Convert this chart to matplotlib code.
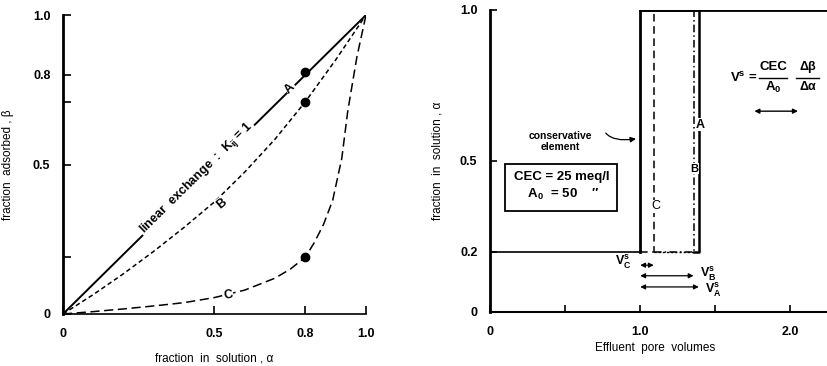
import matplotlib
matplotlib.use("Agg")
import matplotlib.pyplot as plt

plt.rcParams['font.family'] = ['Liberation Sans', 'DejaVu Sans']
plt.rcParams['mathtext.fontset'] = 'custom'
plt.rcParams['mathtext.rm'] = 'Liberation Sans'
plt.rcParams['mathtext.it'] = 'Liberation Sans:italic'
plt.rcParams['mathtext.bf'] = 'Liberation Sans:bold'

# ---- left panel data ----
alpha_A = [0.0, 1.0]
beta_A = [0.0, 1.0]
alpha_B = [0.0, 0.1, 0.2, 0.3, 0.4, 0.5, 0.6, 0.7, 0.8, 0.9, 1.0]
beta_B = [0.0, 0.065, 0.135, 0.21, 0.29, 0.375, 0.475, 0.585, 0.71, 0.85, 1.0]
alpha_C = [0.0, 0.1, 0.2, 0.3, 0.4, 0.5, 0.6, 0.7, 0.75, 0.8, 0.83, 0.86, 0.89, 0.92, 0.94, 0.97, 1.0]
beta_C = [0.0, 0.008, 0.017, 0.027, 0.038, 0.055, 0.08, 0.12, 0.15, 0.19, 0.24, 0.30, 0.38, 0.52, 0.68, 0.86, 1.0]
pts_alpha = [0.8, 0.8, 0.8]
pts_beta = [0.81, 0.71, 0.19]
left_xticks = [0, 0.5, 0.8, 1.0]
left_xticklabels = ['0', '0.5', '0.8', '1.0']
left_yticks = [0, 0.19, 0.5, 0.71, 0.8, 1.0]
left_yticklabels = ['0', '', '0.5', '', '0.8', '1.0']

# ---- right panel data ----
base_x = [0.0, 1.0]
base_y = [0.2, 0.2]
breakthrough = {'cons': 1.0, 'C': 1.09, 'B': 1.355, 'A': 1.39}
x_end = 2.25
arrow_y = {'C': 0.155, 'B': 0.12, 'A': 0.083}
right_xticks = [0, 0.5, 1.0, 1.5, 2.0]
right_xticklabels = ['0', '', '1.0', '', '2.0']
right_yticks = [0, 0.2, 0.5, 1.0]
right_yticklabels = ['0', '0.2', '0.5', '1.0']

fig = plt.figure(figsize=(8.28, 3.66), dpi=100)

# ================= LEFT =================
ax = fig.add_axes([63/828, 1-314/366, 303/828, 299/366])
ax.set_xlim(0, 1.0)
ax.set_ylim(0, 1.0)
for s in ['top', 'right']:
    ax.spines[s].set_visible(False)
ax.spines['left'].set_linewidth(2.0)
ax.spines['bottom'].set_linewidth(1.2)

ax.plot(alpha_A, beta_A, color='black', lw=1.4, solid_capstyle='butt')
ax.plot(alpha_B, beta_B, color='black', lw=1.1, dashes=(3, 2))
ax.plot(alpha_C, beta_C, color='black', lw=1.1, dashes=(6, 3))
ax.plot(pts_alpha, pts_beta, 'o', color='black', ms=6)

ax.text(0.44, 0.455, 'linear  exchange  :  K$_{\\mathbf{ij}}$ = 1', rotation=44.5,
        ha='center', va='center', fontsize=9, fontweight='bold',
        bbox=dict(facecolor='white', edgecolor='none', pad=1))
ax.text(0.75, 0.755, 'A', rotation=44.5, ha='center', va='center', fontsize=9,
        fontweight='bold', bbox=dict(facecolor='white', edgecolor='none', pad=0.5))
ax.text(0.525, 0.37, 'B', rotation=40, ha='center', va='center', fontsize=9,
        fontweight='bold', bbox=dict(facecolor='white', edgecolor='none', pad=0.5))
ax.text(0.545, 0.062, 'C', rotation=10, ha='center', va='center', fontsize=9,
        fontweight='bold', bbox=dict(facecolor='white', edgecolor='none', pad=0.5))

ax.set_xticks(left_xticks)
ax.set_xticklabels(left_xticklabels, fontweight='bold')
ax.set_yticks(left_yticks)
ax.set_yticklabels(left_yticklabels, fontweight='bold')
ax.tick_params(direction='in', length=6, width=1.2, labelsize=9, pad=9)
ax.tick_params(axis='x', pad=10)
ax.set_xlabel('fraction  in  solution , α', fontsize=8.5, labelpad=9)
ax.set_ylabel('fraction  adsorbed , β', fontsize=8.5, labelpad=14)

# ================= RIGHT =================
ax2 = fig.add_axes([490/828, 1-312/366, 338/828, 302/366])
ax2.set_xlim(0, x_end)
ax2.set_ylim(0, 1.0)
for s in ['top', 'right']:
    ax2.spines[s].set_visible(False)
ax2.spines['left'].set_linewidth(2.0)
ax2.spines['bottom'].set_linewidth(1.5)

ax2.plot(base_x, base_y, color='black', lw=1.2)
bc = breakthrough['cons']
ax2.plot([bc, bc, x_end], [0.2, 1.0, 1.0], color='black', lw=2.0)
xc = breakthrough['C']
ax2.plot([bc, xc, xc, bc], [0.2, 0.2, 1.0, 1.0], color='black', lw=1.1, dashes=(5, 3))
xb = breakthrough['B']
ax2.plot([xc, xb, xb], [0.2, 0.2, 1.0], color='black', lw=1.1, dashes=(5, 2, 1, 2))
ax2.plot([xc, xb], [0.2, 0.2], color='black', lw=1.0, dashes=(1.5, 1.5))
xa = breakthrough['A']
ax2.plot([xb, xa, xa, bc], [0.2, 0.2, 1.0, 1.0], color='black', lw=1.8)

ax2.text(xa + 0.01, 0.62, 'A', ha='center', va='center', fontsize=9, fontweight='bold',
         bbox=dict(facecolor='white', edgecolor='none', pad=0.3))
ax2.text(xb + 0.005, 0.475, 'B', ha='center', va='center', fontsize=8, fontweight='bold',
         bbox=dict(facecolor='white', edgecolor='none', pad=0.3))
ax2.text(xc + 0.015, 0.35, 'C', ha='center', va='center', fontsize=9,
         bbox=dict(facecolor='white', edgecolor='none', pad=0.5))

for key in ['C', 'B', 'A']:
    ax2.annotate('', xy=(breakthrough[key], arrow_y[key]), xytext=(bc, arrow_y[key]),
                 arrowprops=dict(arrowstyle='<|-|>', color='black', lw=0.9,
                                 mutation_scale=7, shrinkA=0, shrinkB=0))
ax2.text(0.94, arrow_y['C'] + 0.01, 'V$_{\\mathbf{C}}^{\\mathbf{s}}$', ha='right', va='center',
         fontsize=9, fontweight='bold')
ax2.text(xb + 0.04, arrow_y['B'] + 0.005, 'V$_{\\mathbf{B}}^{\\mathbf{s}}$', ha='left', va='center',
         fontsize=9, fontweight='bold')
ax2.text(xa + 0.04, arrow_y['A'] - 0.01, 'V$_{\\mathbf{A}}^{\\mathbf{s}}$', ha='left', va='center',
         fontsize=9, fontweight='bold')

ax2.text(0.475, 0.415, 'CEC = 25 meq/l\n A$_{\\mathbf{0}}$  = 50    \u2033', ha='center', va='center',
         fontsize=9.5, linespacing=1.4, fontweight='bold',
         bbox=dict(facecolor='white', edgecolor='black', lw=1.3, pad=6))

ax2.text(0.47, 0.565, 'conservative\nelement', ha='center', va='center', fontsize=7.5,
         fontweight='bold', linespacing=1.1)
ax2.annotate('', xy=(0.99, 0.575), xytext=(0.76, 0.6),
             arrowprops=dict(arrowstyle='-|>', color='black', lw=0.9, mutation_scale=8,
                             connectionstyle='angle3,angleA=-60,angleB=10'))

# formula V^s = CEC/A0 * dbeta/dalpha
ax2.text(1.60, 0.775, 'V$^{\\mathbf{s}}$ =', ha='left', va='center', fontsize=9.5, fontweight='bold')
ax2.text(1.885, 0.81, 'CEC', ha='center', va='center', fontsize=9.5, fontweight='bold')
ax2.plot([1.79, 1.98], [0.775, 0.775], color='black', lw=1.0)
ax2.text(1.885, 0.745, 'A$_{\\mathbf{0}}$', ha='center', va='center', fontsize=9.5, fontweight='bold')
ax2.text(2.115, 0.81, 'Δβ', ha='center', va='center', fontsize=9, fontweight='bold')
ax2.plot([2.04, 2.19], [0.775, 0.775], color='black', lw=1.0)
ax2.text(2.115, 0.745, 'Δα', ha='center', va='center', fontsize=9, fontweight='bold')
ax2.annotate('', xy=(2.05, 0.665), xytext=(1.76, 0.665),
             arrowprops=dict(arrowstyle='<|-|>', color='black', lw=1.0,
                             mutation_scale=7, shrinkA=0, shrinkB=0))

ax2.set_xticks(right_xticks)
ax2.set_xticklabels(right_xticklabels, fontweight='bold')
ax2.set_yticks(right_yticks)
ax2.set_yticklabels(right_yticklabels, fontweight='bold')
ax2.tick_params(direction='in', length=5, width=1.2, labelsize=9, pad=9)
ax2.tick_params(axis='x', pad=10)
ax2.set_xlabel('Effluent  pore  volumes', fontsize=8.5)
ax2.xaxis.set_label_coords(1.1 / x_end, -0.1)
ax2.set_ylabel('fraction  in  solution , α', fontsize=8.5, labelpad=12)

fig.savefig('out.png', dpi=100, facecolor='white')
